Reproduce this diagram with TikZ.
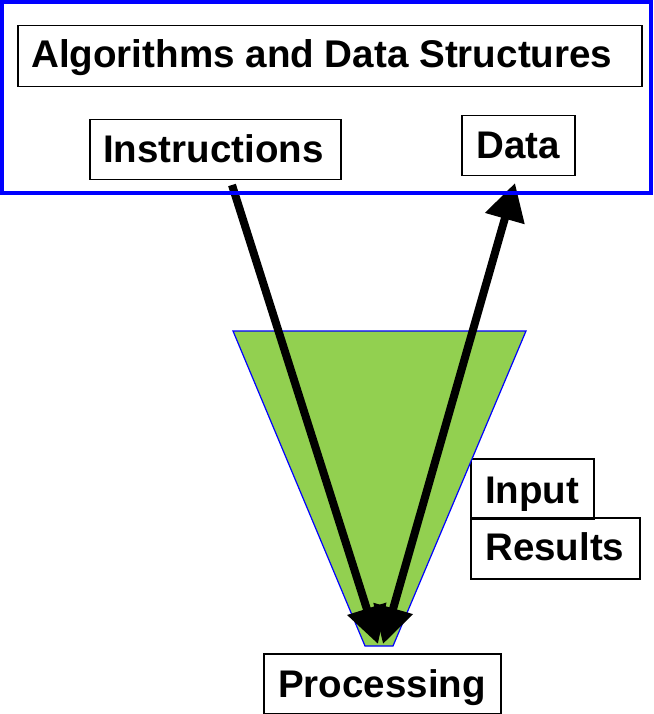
\documentclass[tikz,border=0pt]{standalone}
\usepackage{fontspec}
\setmainfont{Liberation Sans}
\usetikzlibrary{arrows.meta}
\definecolor{funnel}{HTML}{92D050}
\definecolor{frameblue}{HTML}{0000FF}
\begin{document}
\begin{tikzpicture}[x=1pt,y=-1pt,
  box/.style={draw=black,line width=1.5pt,inner sep=0pt,anchor=north west},
  lbl/.style={font=\fontsize{38.5}{40}\selectfont\bfseries,inner sep=0pt,anchor=base west},
  flow/.style={line width=8pt,-{Triangle[length=37pt,width=39pt]}},
  bflow/.style={line width=8pt,{Triangle[length=37pt,width=39pt]}-{Triangle[length=37pt,width=39pt]}}]
\useasboundingbox (0,0) rectangle (653,714);
% boxes
\node[box,minimum width=624pt,minimum height=61pt] (titleB) at (17,25) {};
\node[lbl,font=\fontsize{38.6}{40}\selectfont\bfseries] (titleT) at (31,68) {Algorithms and Data Structures};
\node[box,minimum width=251pt,minimum height=60pt] (insB) at (89,119) {};
\node[lbl] (insT) at (103,163) {Instructions};
\node[box,minimum width=113pt,minimum height=60pt] (dataB) at (461,115) {};
\node[lbl] (dataT) at (476,159) {Data};
\node[box,minimum width=123pt,minimum height=60pt] (inB) at (470,458) {};
\node[lbl] (inT) at (485,503) {Input};
\node[box,minimum width=169pt,minimum height=61pt] (resB) at (470,517) {};
\node[lbl] (resT) at (485,560) {Results};
\node[box,minimum width=237pt,minimum height=60pt] (procB) at (263,653) {};
\node[lbl] (procT) at (278,697) {Processing};
% funnel
\draw[fill=funnel,draw=frameblue,line width=1.2pt] (233,331) -- (526,331) -- (393,646) -- (365,646) -- cycle;
% arrows
\coordinate (insEnd) at (232,185);
\coordinate (procTip1) at (378,644);
\coordinate (procTip2) at (383,644);
\coordinate (dataEnd) at (515,183);
\draw[flow] (insEnd) -- (procTip1);
\draw[bflow] (procTip2) -- (dataEnd);
% outer frame
\draw[frameblue,line width=4pt] (2,2) rectangle (651,193);
\end{tikzpicture}
\end{document}
